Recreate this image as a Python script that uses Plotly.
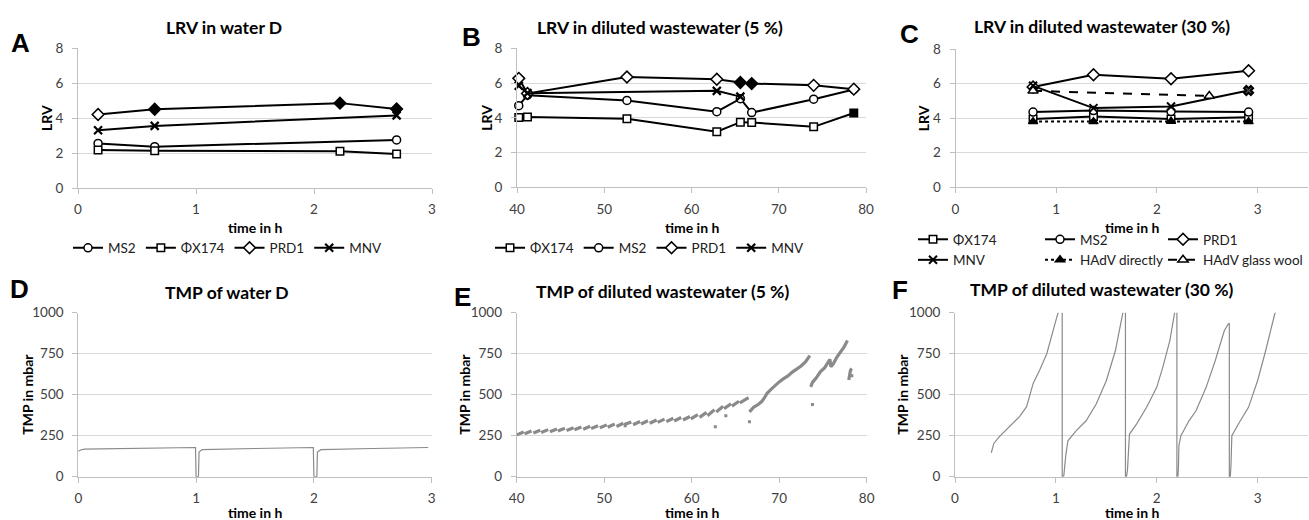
import plotly.graph_objects as go

W, H = 1309, 520

# ---------------- data: LRV panels ----------------
# Panel A (water D)
a_t = [0.17, 0.65, 2.22, 2.70]
a_t3 = [0.17, 0.65, 2.70]
a_ms2 = [2.55, 2.36, 2.75]
a_phi = [2.17, 2.13, 2.10, 1.95]
a_prd1 = [4.20, 4.50, 4.85, 4.52]
a_prd1_filled = [False, True, True, True]
a_mnv = [3.30, 3.55, 4.15]

# Panel B (diluted wastewater 5 %)
b_t = [40.2, 41.2, 52.6, 62.9, 65.6, 66.9, 74.0, 78.6]
b_phi = [4.02, 4.05, 3.95, 3.20, 3.75, 3.73, 3.48, 4.28]
b_phi_filled = [False, False, False, False, False, False, False, True]
b_ms2 = [4.70, 5.30, 5.00, 4.35, 5.10, 4.30, 5.07, 5.63]
b_prd1 = [6.27, 5.40, 6.35, 6.22, 6.03, 5.97, 5.87, 5.65]
b_prd1_filled = [False, False, False, False, True, True, False, False]
b_mnv_t = [40.2, 41.2, 62.9, 65.6]
b_mnv = [5.85, 5.42, 5.55, 5.22]

# Panel C (diluted wastewater 30 %)
c_t = [0.77, 1.37, 2.14, 2.91]
c_phi = [3.95, 4.10, 3.95, 4.05]
c_ms2 = [4.35, 4.44, 4.38, 4.35]
c_prd1 = [5.80, 6.51, 6.28, 6.74]
c_mnv = [5.87, 4.58, 4.67, 5.60]
c_mnv_filled = [False, False, False, True]
c_hadv_dir = [3.80, 3.80, 3.82, 3.80]
c_hadv_gw_t = [0.77, 2.52]
c_hadv_gw = [5.58, 5.28]

# ---------------- data: TMP panels ----------------
# Panel D (water D)
d_t = [0.00, 0.02, 0.05, 0.50, 0.995, 1.000, 1.020, 1.025, 1.05, 1.50, 1.995,
       2.000, 2.025, 2.030, 2.06, 2.50, 2.97]
d_v = [155, 163, 168, 172, 178, 0, 0, 150, 165, 172, 178,
       0, 0, 150, 165, 172, 178]

# Panel E (diluted wastewater 5 %): filtration cycles (start/end of each cycle)
e_t0 = [40.0, 40.9, 41.9, 42.8, 43.8, 44.7, 45.7, 46.6, 47.6, 48.5, 49.5, 50.4,
        51.4, 52.3, 53.3, 54.2, 55.2, 56.1, 57.1, 58.0, 59.0, 59.9, 60.9, 61.8,
        62.8, 63.7, 64.6, 65.5]
e_v0 = [255, 262, 266, 270, 274, 278, 282, 286, 290, 294, 298, 302,
        306, 318, 317, 321, 326, 331, 336, 340, 346, 352, 362, 372,
        395, 415, 430, 450]
e_t1 = [40.8, 41.7, 42.7, 43.6, 44.6, 45.5, 46.5, 47.4, 48.4, 49.3, 50.3, 51.2,
        52.2, 53.1, 54.1, 55.0, 56.0, 56.9, 57.9, 58.8, 59.8, 60.7, 61.7, 62.6,
        63.6, 64.5, 65.4, 66.5]
e_v1 = [272, 279, 283, 287, 291, 295, 299, 303, 307, 311, 316, 321,
        326, 334, 337, 341, 346, 351, 356, 361, 367, 378, 392, 408,
        430, 445, 460, 482]
# continuous later sections
e2_t = [66.6, 67.1, 67.6, 68.0, 68.3, 68.6, 69.0, 69.5, 70.0, 70.5, 71.0, 71.5,
        72.0, 72.5, 73.0, 73.5]
e2_v = [395, 425, 440, 458, 480, 508, 530, 555, 578, 598, 615, 638,
        655, 675, 700, 738]
e3_t = [73.6, 73.8, 74.2, 74.7, 75.2, 75.6, 75.8, 75.9, 76.2, 76.6, 77.0, 77.4, 77.8]
e3_v = [548, 575, 600, 640, 665, 700, 715, 670, 690, 730, 760, 790, 830]
e4_t = [77.95, 78.05, 78.15, 78.3]
e4_v = [590, 630, 650, 660]
e_dot_t = [52.4, 62.7, 63.9, 66.6, 73.8, 78.3]
e_dot_v = [310, 305, 372, 335, 440, 615]

# Panel F (diluted wastewater 30 %)
f_t = [0.36, 0.385, 0.44, 0.54, 0.64, 0.71, 0.775, 0.84, 0.91, 1.01, 1.05, 1.063,
       1.063, 1.079, 1.099, 1.12, 1.20, 1.30, 1.40, 1.50, 1.59, 1.66, 1.68, 1.69,
       1.69, 1.70, 1.71, 1.72, 1.73, 1.80, 1.90, 2.00, 2.06, 2.13, 2.18, 2.195, 2.20,
       2.20, 2.21, 2.215, 2.22, 2.24, 2.32, 2.39, 2.49, 2.58, 2.67, 2.71, 2.72,
       2.72, 2.73, 2.737, 2.745, 2.81, 2.91, 3.00, 3.08, 3.17, 3.20]
f_v = [146, 203, 244, 305, 366, 427, 569, 650, 750, 974, 1050, 1080,
       0, 5, 135, 219, 280, 341, 443, 585, 768, 992, 1040, 1080,
       0, 0, 40, 210, 260, 321, 423, 545, 667, 829, 992, 1040, 1080,
       0, 0, 50, 190, 250, 341, 402, 545, 707, 890, 931, 935,
       0, 0, 80, 250, 321, 423, 585, 768, 992, 1040]

# ---------------- layout geometry (px) ----------------
panels = {
    1: dict(x0=78, x1=432, y0=48, y1=188),
    2: dict(x0=517, x1=866, y0=48.3, y1=187.3),
    3: dict(x0=955.5, x1=1308, y0=49, y1=187.3),
    4: dict(x0=78.3, x1=431.7, y0=312.7, y1=476.7),
    5: dict(x0=516.7, x1=866.7, y0=312.7, y1=476.7),
    6: dict(x0=955, x1=1308, y0=312.7, y1=476.7),
}

FONT = "Lato"
TXT = "#000000"

fig = go.Figure()


def fills(flags, on="black", off="white"):
    return [on if f else off for f in flags]


def lrv(x, y, ax, name, symbol, colors, legend, showlegend=True, dash="solid",
        size=8, lw=1.5, lcolor="black"):
    fig.add_trace(go.Scatter(
        x=x, y=y, xaxis="x" + ax, yaxis="y" + ax, mode="lines+markers", name=name,
        line=dict(color="black", width=2, dash=dash),
        marker=dict(symbol=symbol, size=size, color=colors,
                    line=dict(color=lcolor, width=lw)),
        legend=legend, showlegend=showlegend, cliponaxis=False))


# Panel A
lrv(a_t3, a_ms2, "", "MS2", "circle", "white", "legend")
lrv(a_t, a_phi, "", "ΦX174", "square", "white", "legend", size=7.5)
lrv(a_t, a_prd1, "", "PRD1", "diamond", fills(a_prd1_filled), "legend", size=9)
lrv(a_t3, a_mnv, "", "MNV", "x-thin", "black", "legend", size=8, lw=2.2)

# Panel B
lrv(b_t, b_phi, "2", "ΦX174", "square", fills(b_phi_filled), "legend2", size=7.5)
lrv(b_t, b_ms2, "2", "MS2", "circle", "white", "legend2")
lrv(b_t, b_prd1, "2", "PRD1", "diamond", fills(b_prd1_filled), "legend2", size=9)
lrv(b_mnv_t, b_mnv, "2", "MNV", "x-thin", "black", "legend2", size=8, lw=2.2)

# Panel C (legend laid out as three columns)
lrv(c_t, c_phi, "3", "ΦX174", "square", "white", "legend3", size=7.5)
lrv(c_t, c_ms2, "3", "MS2", "circle", "white", "legend4")
lrv(c_t, c_prd1, "3", "PRD1", "diamond", "white", "legend5", size=9)
lrv(c_t, c_mnv, "3", "MNV",
    ["x-thin" if not f else "x" for f in c_mnv_filled],
    fills(c_mnv_filled, on="#555555"), "legend3", size=8, lw=2.0)
lrv(c_t, c_hadv_dir, "3", "HAdV directly", "triangle-up", "black", "legend4",
    dash="dot", size=8)
lrv(c_hadv_gw_t, c_hadv_gw, "3", "HAdV glass wool", "triangle-up", "white",
    "legend5", dash="dash", size=9)

GRAY = "#8a8a8a"
# Panel D
fig.add_trace(go.Scatter(x=d_t, y=d_v, xaxis="x4", yaxis="y4", mode="lines",
                         line=dict(color=GRAY, width=1.2), showlegend=False))
# Panel E
ex, ey = [], []
for t0, v0, t1, v1 in zip(e_t0, e_v0, e_t1, e_v1):
    ex += [t0, t1, None]
    ey += [v0, v1, None]
for tt, vv in ((e2_t, e2_v), (e3_t, e3_v), (e4_t, e4_v)):
    ex += tt + [None]
    ey += vv + [None]
fig.add_trace(go.Scatter(x=ex, y=ey, xaxis="x5", yaxis="y5", mode="lines",
                         line=dict(color=GRAY, width=3.2), showlegend=False))
fig.add_trace(go.Scatter(x=e_dot_t, y=e_dot_v, xaxis="x5", yaxis="y5", mode="markers",
                         marker=dict(color=GRAY, size=3, symbol="square"),
                         showlegend=False))
# Panel F
fig.add_trace(go.Scatter(x=f_t, y=f_v, xaxis="x6", yaxis="y6", mode="lines",
                         line=dict(color=GRAY, width=1.2), showlegend=False))

# ---------------- axes ----------------
AX = "#bfbfbf"
xr = {1: [0, 3], 2: [40, 80], 3: [0, 3.5], 4: [0, 3], 5: [40, 80], 6: [0, 3.5]}
xtv = {1: [0, 1, 2, 3], 2: [40, 50, 60, 70, 80], 3: [0, 1, 2, 3],
       4: [0, 1, 2, 3], 5: [40, 50, 60, 70, 80], 6: [0, 1, 2, 3]}
layout = {}
for i, p in panels.items():
    k = "" if i == 1 else str(i)
    xd = [p["x0"] / W, p["x1"] / W]
    yd = [1 - p["y1"] / H, 1 - p["y0"] / H]
    layout["xaxis" + k] = dict(
        domain=xd, anchor="y" + k, range=xr[i], tickvals=xtv[i],
        showgrid=False, zeroline=False, showline=True, linecolor=AX, linewidth=1,
        ticks="outside", ticklen=5, tickcolor=AX, ticklabelstandoff=4,
        tickfont=dict(family=FONT, size=13.5, color="#404040"), fixedrange=True)
    if i <= 3:
        yr, ytv = [0, 8], [0, 2, 4, 6, 8]
    else:
        yr, ytv = [0, 1000], [0, 250, 500, 750, 1000]
    layout["yaxis" + k] = dict(
        domain=yd, anchor="x" + k, range=yr, tickvals=ytv,
        showgrid=True, gridcolor="#d9d9d9", gridwidth=1, zeroline=False,
        showline=True, linecolor=AX, linewidth=1,
        ticks="outside", ticklen=5, tickcolor=AX, ticklabelstandoff=6,
        tickfont=dict(family=FONT, size=13.5, color="#404040"), fixedrange=True)

# ---------------- text ----------------
ann = []


def txt(s, xp, yp, size, bold=True, angle=0, family=FONT, xanchor="center"):
    ann.append(dict(text=("<b>%s</b>" % s) if bold else s, x=xp / W, y=1 - yp / H,
                    xref="paper", yref="paper", showarrow=False, textangle=angle,
                    xanchor=xanchor, yanchor="middle",
                    font=dict(family=family, size=size, color=TXT)))


titles = [("LRV in water D", 224, 27), ("LRV in diluted wastewater (5 %)", 660, 27),
          ("LRV in diluted wastewater (30 %)", 1102, 26),
          ("TMP of water D", 227, 292), ("TMP of diluted wastewater (5 %)", 663, 291),
          ("TMP of diluted wastewater (30 %)", 1102, 289)]
for s, xp, yp in titles:
    txt(s, xp, yp, 17.5)

letters = [("A", 20, 43), ("B", 471, 37), ("C", 909, 34), ("D", 19, 289),
           ("E", 462, 297), ("F", 900, 290)]
for s, xp, yp in letters:
    txt(s, xp, yp, 26, family="Liberation Sans")

for i, p in panels.items():
    cx = (p["x0"] + p["x1"]) / 2
    if i <= 3:
        txt("time in h", cx, 227, 14)
    else:
        txt("time in h", cx, 512, 14)
ylab_x = {1: 47, 2: 487, 3: 923, 4: 28, 5: 465, 6: 903}
for i, p in panels.items():
    cy = (p["y0"] + p["y1"]) / 2
    txt("LRV" if i <= 3 else "TMP in mbar", ylab_x[i], cy, 14, angle=-90)

leg_font = dict(family=FONT, size=13.5, color="#202020")
leg_h = dict(orientation="h", bgcolor="rgba(0,0,0,0)", borderwidth=0, font=leg_font,
             itemwidth=30, yanchor="middle", tracegroupgap=0)
leg_v = dict(orientation="v", bgcolor="rgba(0,0,0,0)", borderwidth=0, font=leg_font,
             itemwidth=30, yanchor="middle", xanchor="left", tracegroupgap=0,
             y=1 - 250 / H)
fig.update_layout(
    width=W, height=H, margin=dict(l=0, r=0, t=0, b=0, pad=0, autoexpand=False),
    paper_bgcolor="white", plot_bgcolor="white",
    annotations=ann, **layout,
    legend=dict(x=228 / W, xanchor="center", y=1 - 248 / H, **leg_h),
    legend2=dict(x=650 / W, xanchor="center", y=1 - 248 / H, **leg_h),
    legend3=dict(x=913 / W, **leg_v),
    legend4=dict(x=1040 / W, **leg_v),
    legend5=dict(x=1163 / W, **leg_v),
)

fig.write_html("out.html", config={"displayModeBar": False},
               post_script="document.body.style.margin='0';"
                           "document.body.style.padding='0';")
